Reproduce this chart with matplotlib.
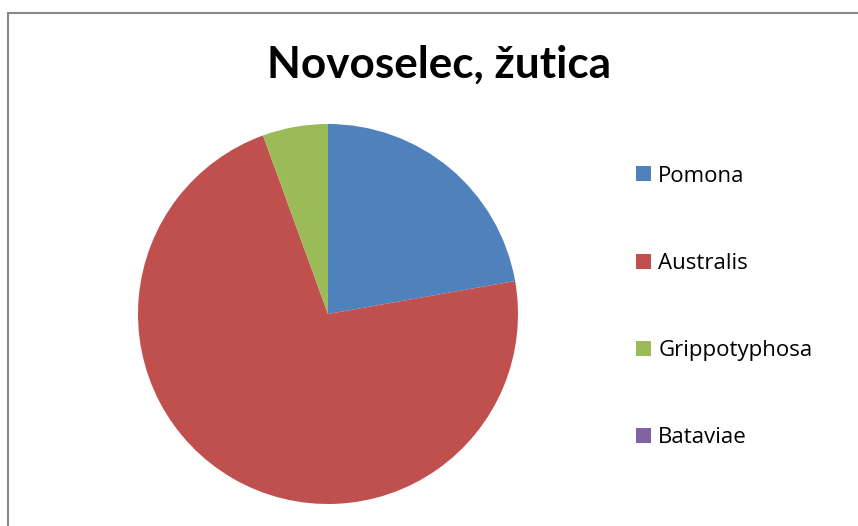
import matplotlib
matplotlib.use("Agg")
import matplotlib.pyplot as plt
from matplotlib.patches import Rectangle, Patch

title = "Novoselec, žutica"
categories = ["Pomona", "Australis", "Grippotyphosa", "Bataviae"]
values = [4, 13, 1, 0]
colors = ["#4F81BD", "#C0504D", "#9BBB59", "#8064A2"]

W, H = 858, 526
fig = plt.figure(figsize=(W / 100, H / 100), dpi=100)
fig.patch.set_facecolor("white")

# chart frame
fig.add_artist(Rectangle((8 / W, -0.1), 1.2, (H - 13) / H + 0.1, transform=fig.transFigure,
                         fill=False, edgecolor="#898989", linewidth=1.5))

cx, cy, r = 328, 314, 190
ax = fig.add_axes([(cx - r) / W, (H - cy - r) / H, 2 * r / W, 2 * r / H])
ax.pie(values, colors=colors, startangle=90, counterclock=False, radius=1.0,
       wedgeprops=dict(linewidth=0))
ax.set_xlim(-1, 1)
ax.set_ylim(-1, 1)
ax.set_aspect("equal")
ax.axis("off")

fig.text(439 / W, (H - 65) / H, title, ha="center", va="center",
         fontsize=31.8, fontweight="bold", family=["Lato", "DejaVu Sans"])

handles = [Patch(facecolor=c, edgecolor="none") for c in colors]
leg = fig.legend(handles, categories, loc="center left",
                 bbox_to_anchor=(616 / W, (H - 307) / H),
                 frameon=False, labelspacing=2.98,
                 handlelength=0.675, handleheight=0.675, handletextpad=0.33,
                 prop=dict(family=["Open Sans", "DejaVu Sans"], size=16))

fig.savefig("out.png", dpi=100)
